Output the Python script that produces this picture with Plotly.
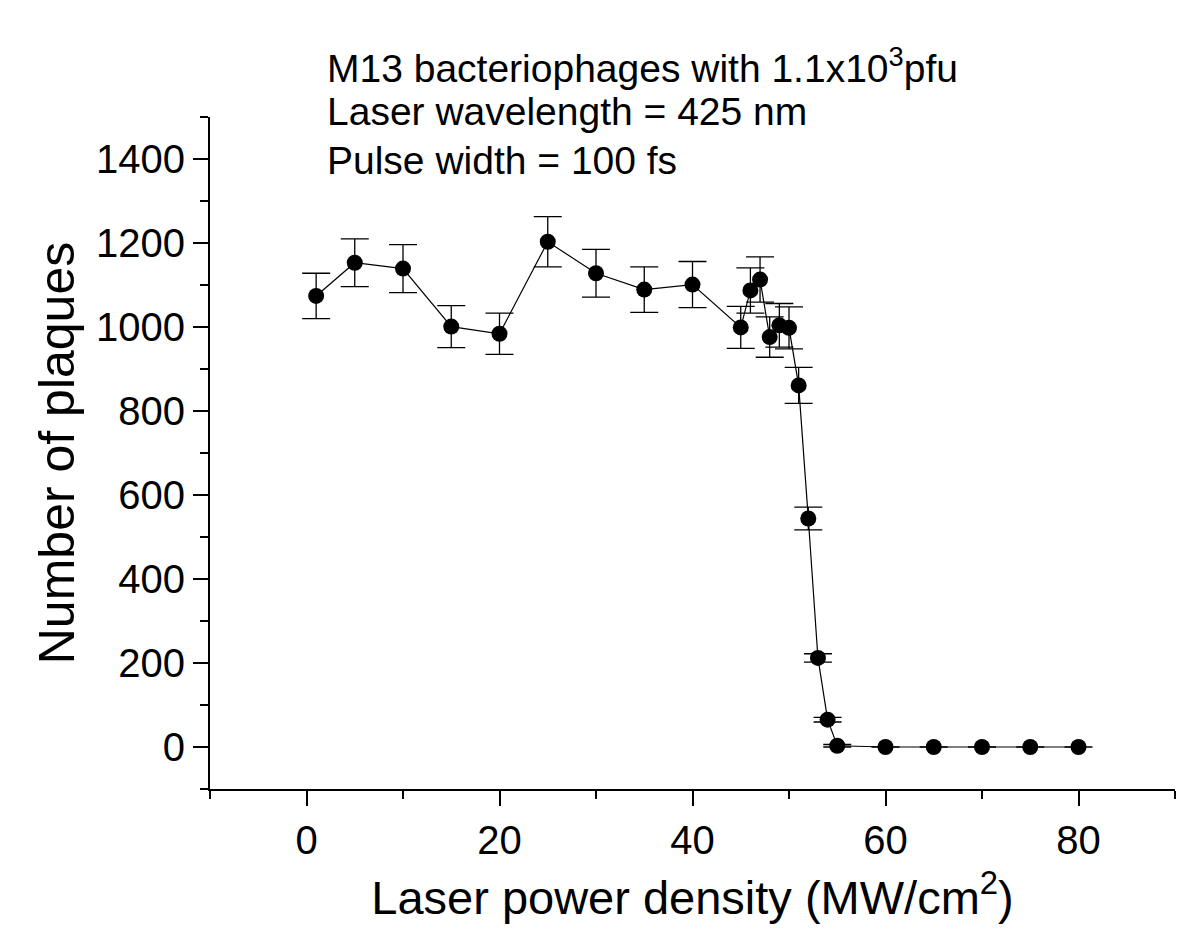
import plotly.graph_objects as go

power_density = [1, 5, 10, 15, 20, 25, 30, 35, 40, 45, 46, 47, 48, 49, 50,
                 51, 52, 53, 54, 55, 60, 65, 70, 75, 80]
plaques = [1074, 1153, 1139, 1001, 984, 1203, 1128, 1089, 1101, 999, 1087, 1113,
           976, 1004, 998, 861, 544, 212, 65, 3, 0, 0, 0, 0, 0]
plaque_err = [54, 57, 57, 50, 49, 60, 57, 54, 55, 50, 54, 54,
              48, 52, 50, 43, 27, 10, 5.5, 3, 0, 0, 0, 0, 0]

x_ticks = [0, 20, 40, 60, 80]
y_ticks = [0, 200, 400, 600, 800, 1000, 1200, 1400]

FONT = "Liberation Sans, Arial, sans-serif"

fig = go.Figure()
fig.add_trace(go.Scatter(
    x=power_density, y=plaques,
    mode="lines+markers",
    line=dict(color="black", width=1.2),
    marker=dict(color="black", size=16),
    error_y=dict(type="data", array=plaque_err, visible=True,
                 color="black", thickness=1.3, width=14),
    showlegend=False,
))

axis_common = dict(
    showline=True, linecolor="black", linewidth=2,
    ticks="outside", ticklen=15, tickwidth=2, tickcolor="black",
    showgrid=False, zeroline=False, mirror=False,
    tickfont=dict(family=FONT, size=40, color="black"),
)

fig.update_xaxes(
    range=[-10, 90], tickmode="array", tickvals=x_ticks,
    ticktext=[str(v) for v in x_ticks],
    minor=dict(ticks="outside", ticklen=8, tickwidth=2, tickcolor="black", dtick=10, tick0=-10),
    title=dict(text="Laser power density (MW/cm<sup>2</sup>)",
               font=dict(family=FONT, size=47, color="black"), standoff=20),
    **axis_common,
)
fig.update_yaxes(
    range=[-100, 1500], tickmode="array", tickvals=y_ticks,
    ticktext=[str(v) for v in y_ticks],
    minor=dict(ticks="outside", ticklen=8, tickwidth=2, tickcolor="black", dtick=100, tick0=-100),
    title=dict(text="Number of plaques",
               font=dict(family=FONT, size=50, color="black"), standoff=6),
    **axis_common,
)

notes = ["M13 bacteriophages with 1.1x10<sup>3</sup>pfu",
         "Laser wavelength = 425 nm",
         "Pulse width = 100 fs"]
note_y = [57, 104, 152]
for txt, yy in zip(notes, note_y):
    fig.add_annotation(
        text=txt, xref="paper", yref="paper",
        x=(317 - 202) / 965, y=1 - (yy - 109) / 672,
        xanchor="left", yanchor="middle", showarrow=False,
        font=dict(family=FONT, size=39, color="black"),
    )

fig.update_layout(
    width=1200, height=944, autosize=False,
    margin=dict(l=202, r=33, t=109, b=163),
    paper_bgcolor="white", plot_bgcolor="white",
)

fig.write_html("out.html")
